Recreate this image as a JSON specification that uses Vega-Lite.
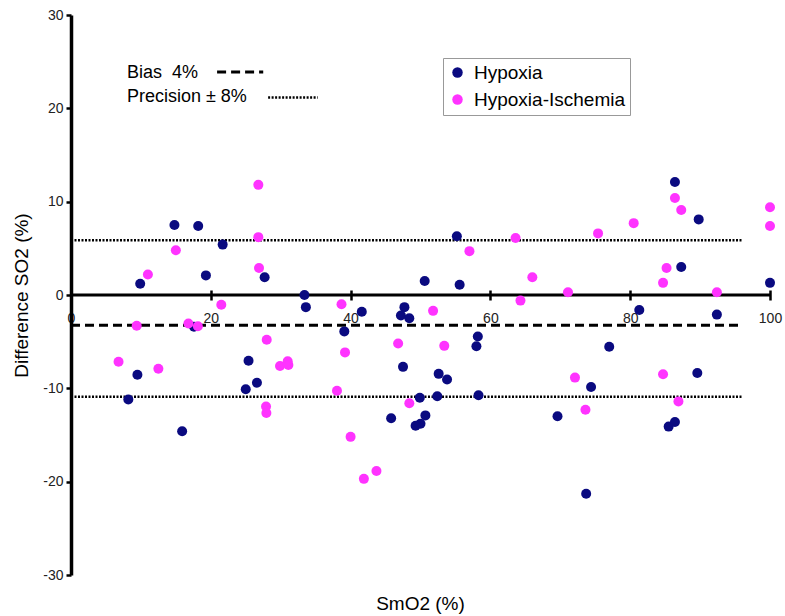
{
  "$schema": "https://vega.github.io/schema/vega-lite/v6.json",
  "width": 699,
  "height": 560,
  "autosize": {"type": "none"},
  "padding": {"left": 71, "top": 15, "right": 15, "bottom": 41},
  "background": "white",
  "config": {"view": {"stroke": null}, "font": "Liberation Sans"},
  "datasets": {
    "pts": [
      {"x": 9.9, "y": 1.2, "group": "Hypoxia"},
      {"x": 14.8, "y": 7.5, "group": "Hypoxia"},
      {"x": 18.2, "y": 7.4, "group": "Hypoxia"},
      {"x": 19.3, "y": 2.1, "group": "Hypoxia"},
      {"x": 21.7, "y": 5.4, "group": "Hypoxia"},
      {"x": 17.6, "y": -3.4, "group": "Hypoxia"},
      {"x": 27.7, "y": 1.9, "group": "Hypoxia"},
      {"x": 33.4, "y": 0.0, "group": "Hypoxia"},
      {"x": 33.6, "y": -1.3, "group": "Hypoxia"},
      {"x": 41.6, "y": -1.8, "group": "Hypoxia"},
      {"x": 47.7, "y": -1.3, "group": "Hypoxia"},
      {"x": 47.2, "y": -2.2, "group": "Hypoxia"},
      {"x": 48.4, "y": -2.5, "group": "Hypoxia"},
      {"x": 39.1, "y": -3.9, "group": "Hypoxia"},
      {"x": 55.2, "y": 6.3, "group": "Hypoxia"},
      {"x": 50.6, "y": 1.5, "group": "Hypoxia"},
      {"x": 55.6, "y": 1.1, "group": "Hypoxia"},
      {"x": 87.3, "y": 3.0, "group": "Hypoxia"},
      {"x": 100, "y": 1.3, "group": "Hypoxia"},
      {"x": 81.3, "y": -1.6, "group": "Hypoxia"},
      {"x": 92.4, "y": -2.1, "group": "Hypoxia"},
      {"x": 86.4, "y": 12.1, "group": "Hypoxia"},
      {"x": 89.8, "y": 8.1, "group": "Hypoxia"},
      {"x": 9.5, "y": -8.55, "group": "Hypoxia"},
      {"x": 8.2, "y": -11.2, "group": "Hypoxia"},
      {"x": 15.9, "y": -14.6, "group": "Hypoxia"},
      {"x": 25.4, "y": -7.05, "group": "Hypoxia"},
      {"x": 26.6, "y": -9.4, "group": "Hypoxia"},
      {"x": 25.0, "y": -10.1, "group": "Hypoxia"},
      {"x": 47.5, "y": -7.7, "group": "Hypoxia"},
      {"x": 45.8, "y": -13.2, "group": "Hypoxia"},
      {"x": 58.2, "y": -4.45, "group": "Hypoxia"},
      {"x": 58.0, "y": -5.5, "group": "Hypoxia"},
      {"x": 52.6, "y": -8.45, "group": "Hypoxia"},
      {"x": 53.8, "y": -9.05, "group": "Hypoxia"},
      {"x": 49.9, "y": -11.0, "group": "Hypoxia"},
      {"x": 52.4, "y": -10.85, "group": "Hypoxia"},
      {"x": 58.3, "y": -10.75, "group": "Hypoxia"},
      {"x": 50.7, "y": -12.9, "group": "Hypoxia"},
      {"x": 50.0, "y": -13.8, "group": "Hypoxia"},
      {"x": 49.3, "y": -14.0, "group": "Hypoxia"},
      {"x": 69.6, "y": -13.0, "group": "Hypoxia"},
      {"x": 77.0, "y": -5.55, "group": "Hypoxia"},
      {"x": 74.4, "y": -9.85, "group": "Hypoxia"},
      {"x": 89.6, "y": -8.35, "group": "Hypoxia"},
      {"x": 85.5, "y": -14.1, "group": "Hypoxia"},
      {"x": 86.4, "y": -13.6, "group": "Hypoxia"},
      {"x": 73.7, "y": -21.3, "group": "Hypoxia"},
      {"x": 11.0, "y": 2.2, "group": "Hypoxia-Ischemia"},
      {"x": 15.0, "y": 4.8, "group": "Hypoxia-Ischemia"},
      {"x": 21.5, "y": -1.05, "group": "Hypoxia-Ischemia"},
      {"x": 9.4, "y": -3.3, "group": "Hypoxia-Ischemia"},
      {"x": 16.8, "y": -3.05, "group": "Hypoxia-Ischemia"},
      {"x": 18.15, "y": -3.35, "group": "Hypoxia-Ischemia"},
      {"x": 26.8, "y": 11.8, "group": "Hypoxia-Ischemia"},
      {"x": 26.8, "y": 6.2, "group": "Hypoxia-Ischemia"},
      {"x": 26.9, "y": 2.9, "group": "Hypoxia-Ischemia"},
      {"x": 38.7, "y": -1.0, "group": "Hypoxia-Ischemia"},
      {"x": 57.0, "y": 4.7, "group": "Hypoxia-Ischemia"},
      {"x": 63.6, "y": 6.1, "group": "Hypoxia-Ischemia"},
      {"x": 66.0, "y": 1.9, "group": "Hypoxia-Ischemia"},
      {"x": 71.1, "y": 0.3, "group": "Hypoxia-Ischemia"},
      {"x": 64.3, "y": -0.6, "group": "Hypoxia-Ischemia"},
      {"x": 51.8, "y": -1.7, "group": "Hypoxia-Ischemia"},
      {"x": 86.4, "y": 10.4, "group": "Hypoxia-Ischemia"},
      {"x": 87.3, "y": 9.1, "group": "Hypoxia-Ischemia"},
      {"x": 80.5, "y": 7.7, "group": "Hypoxia-Ischemia"},
      {"x": 75.4, "y": 6.6, "group": "Hypoxia-Ischemia"},
      {"x": 100, "y": 9.4, "group": "Hypoxia-Ischemia"},
      {"x": 100, "y": 7.4, "group": "Hypoxia-Ischemia"},
      {"x": 85.2, "y": 2.9, "group": "Hypoxia-Ischemia"},
      {"x": 84.7, "y": 1.3, "group": "Hypoxia-Ischemia"},
      {"x": 92.4, "y": 0.3, "group": "Hypoxia-Ischemia"},
      {"x": 6.8, "y": -7.15, "group": "Hypoxia-Ischemia"},
      {"x": 12.5, "y": -7.9, "group": "Hypoxia-Ischemia"},
      {"x": 28.0, "y": -4.8, "group": "Hypoxia-Ischemia"},
      {"x": 29.9, "y": -7.6, "group": "Hypoxia-Ischemia"},
      {"x": 31.0, "y": -7.1, "group": "Hypoxia-Ischemia"},
      {"x": 31.1, "y": -7.5, "group": "Hypoxia-Ischemia"},
      {"x": 27.9, "y": -11.95, "group": "Hypoxia-Ischemia"},
      {"x": 27.95, "y": -12.65, "group": "Hypoxia-Ischemia"},
      {"x": 39.2, "y": -6.15, "group": "Hypoxia-Ischemia"},
      {"x": 38.05, "y": -10.25, "group": "Hypoxia-Ischemia"},
      {"x": 40.0, "y": -15.2, "group": "Hypoxia-Ischemia"},
      {"x": 43.7, "y": -18.85, "group": "Hypoxia-Ischemia"},
      {"x": 41.9, "y": -19.7, "group": "Hypoxia-Ischemia"},
      {"x": 46.8, "y": -5.2, "group": "Hypoxia-Ischemia"},
      {"x": 48.4, "y": -11.6, "group": "Hypoxia-Ischemia"},
      {"x": 53.4, "y": -5.45, "group": "Hypoxia-Ischemia"},
      {"x": 72.1, "y": -8.85, "group": "Hypoxia-Ischemia"},
      {"x": 73.6, "y": -12.3, "group": "Hypoxia-Ischemia"},
      {"x": 84.7, "y": -8.5, "group": "Hypoxia-Ischemia"},
      {"x": 86.9, "y": -11.4, "group": "Hypoxia-Ischemia"}
    ]
  },
  "encoding": {
    "x": {
      "field": "x", "type": "quantitative",
      "scale": {"domain": [0, 100], "nice": false},
      "axis": {
        "title": "SmO2 (%)", "values": [0, 20, 40, 60, 80, 100],
        "offset": -285, "domain": false, "grid": false,
        "tickSize": 10, "tickWidth": 2.5, "tickColor": "black",
        "labelPadding": 11, "labelFontSize": 14, "labelColor": "#222", "labelFlush": false,
        "labelExpr": "'' + datum.value",
        "titleFontSize": 19, "titleFontWeight": "normal", "titleColor": "black",
        "titleX": 349, "titleY": 313, "titleBaseline": "middle"
      }
    },
    "y": {
      "field": "y", "type": "quantitative",
      "scale": {"domain": [-30, 30], "nice": false},
      "axis": {
        "title": "Difference SO2 (%)", "values": [-30, -20, -10, 0, 10, 20, 30],
        "domainWidth": 3.5, "domainColor": "black", "grid": false,
        "tickSize": 5, "tickWidth": 2.5, "tickColor": "black",
        "labelPadding": 3, "labelFontSize": 14, "labelColor": "#222",
        "labelExpr": "'' + datum.value",
        "titleFontSize": 19, "titleFontWeight": "normal", "titleColor": "black",
        "titleX": -50, "titleY": 280, "titleBaseline": "middle"
      }
    }
  },
  "layer": [
    {
      "data": {"values": [{"x": 0, "x2": 100, "y": 0}]},
      "mark": {"type": "rule", "color": "black", "strokeWidth": 3},
      "encoding": {"x2": {"field": "x2"}}
    },
    {
      "data": {"values": [
        {"x": 0, "x2": 96, "y": 5.87},
        {"x": 0, "x2": 96, "y": -10.9},
        {"x": 28.2, "x2": 35.3, "y": 21.15}
      ]},
      "mark": {"type": "rule", "color": "black", "strokeWidth": 2.5, "strokeDash": [2, 1.5]},
      "encoding": {"x2": {"field": "x2"}}
    },
    {
      "data": {"values": [
        {"x": 0, "x2": 96, "y": -3.24},
        {"x": 20.9, "x2": 27.5, "y": 23.9}
      ]},
      "mark": {"type": "rule", "color": "black", "strokeWidth": 3, "strokeDash": [9, 5]},
      "encoding": {"x2": {"field": "x2"}}
    },
    {
      "data": {"values": [
        {"x": 8.0, "y": 23.2, "label": "Bias\u00a0\u00a04%"},
        {"x": 8.0, "y": 20.7, "label": "Precision ± 8%"}
      ]},
      "mark": {"type": "text", "align": "left", "baseline": "alphabetic", "fontSize": 18, "color": "black", "font": "Liberation Sans"},
      "encoding": {"text": {"field": "label"}}
    },
    {
      "data": {"name": "pts"},
      "mark": {"type": "circle", "size": 100, "opacity": 1},
      "encoding": {
        "color": {
          "field": "group", "type": "nominal",
          "scale": {"domain": ["Hypoxia", "Hypoxia-Ischemia"], "range": ["#0a0a80", "#ff33ff"]},
          "legend": {
            "title": null, "orient": "none", "legendX": 372, "legendY": 43, "direction": "vertical",
            "strokeColor": "#999", "fillColor": "white", "padding": 5, "rowPadding": 7,
            "labelFontSize": 19, "labelColor": "black", "labelOffset": 7,
            "symbolType": "circle", "symbolSize": 110, "symbolStrokeWidth": 0
          }
        }
      }
    }
  ]
}
